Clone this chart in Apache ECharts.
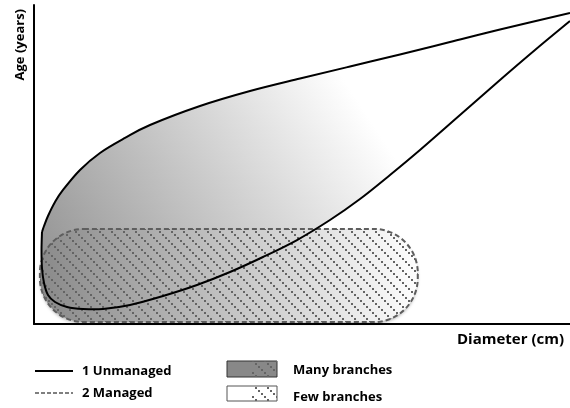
<!DOCTYPE html>
<html>
<head>
<meta charset="utf-8">
<script src="https://cdn.jsdelivr.net/npm/echarts@6/dist/echarts.min.js"></script>
<style>
  html, body { margin: 0; padding: 0; background: #fff; }
  #main { width: 570px; height: 408px; }
</style>
</head>
<body>
<div id="main"></div>
<script>
// unmanaged envelope: upper edge, left to right
var diameterTop = [1.49, 1.87, 2.61, 3.92, 5.41, 8.58, 12.31, 16.98, 21.64, 30.97, 40.30, 49.63, 58.96, 68.28, 77.61, 86.94, 100];
var ageTop = [28.84, 30.72, 33.86, 38.24, 42.01, 48.28, 53.61, 58.31, 62.38, 68.34, 73.04, 76.96, 80.72, 84.48, 88.40, 92.32, 97.49];
// unmanaged envelope: lower edge, left to right
var diameterBottom = [1.49, 1.40, 1.49, 1.87, 2.61, 3.92, 6.16, 9.14, 12.87, 17.91, 24.07, 30.41, 36.57, 42.72, 49.07, 55.22, 60.82, 66.42, 72.01, 79.48, 86.94, 93.47, 100];
var ageBottom = [28.84, 23.20, 17.55, 12.85, 9.09, 6.90, 5.33, 4.70, 4.70, 5.96, 8.78, 12.23, 16.30, 21.00, 26.33, 32.60, 39.18, 46.71, 54.55, 65.52, 76.49, 85.89, 94.98];
// managed zone (min, max)
var managedDiameter = [1.1, 71.6];
var managedAge = [0.6, 29.8];

var legendLines = ['1 Unmanaged', '2 Managed'];
var legendBoxes = ['Many branches', 'Few branches'];

var FONT = '"Open Sans", "Noto Sans", sans-serif';

// dotted diagonal hatch
function hatchCanvas() {
    var c = document.createElement('canvas');
    c.width = 12;
    c.height = 12;
    var ctx = c.getContext('2d');
    ctx.fillStyle = '#646464';
    for (var i = 0; i < 4; i++) {
        ctx.fillRect(i * 3, i * 3, 2, 2);
    }
    return c;
}
var hatch = { image: hatchCanvas(), repeat: 'repeat' };

// catmull-rom through pixel points -> svg path commands
function splinePath(pts, moveFirst) {
    var d = (moveFirst ? 'M' : 'L') + pts[0][0] + ' ' + pts[0][1];
    for (var i = 0; i < pts.length - 1; i++) {
        var p0 = pts[i - 1] || pts[i];
        var p1 = pts[i];
        var p2 = pts[i + 1];
        var p3 = pts[i + 2] || p2;
        var c1x = p1[0] + (p2[0] - p0[0]) / 6, c1y = p1[1] + (p2[1] - p0[1]) / 6;
        var c2x = p2[0] - (p3[0] - p1[0]) / 6, c2y = p2[1] - (p3[1] - p1[1]) / 6;
        d += ' C' + c1x + ' ' + c1y + ' ' + c2x + ' ' + c2y + ' ' + p2[0] + ' ' + p2[1];
    }
    return d;
}

function toPixels(api, xs, ys) {
    var out = [];
    for (var i = 0; i < xs.length; i++) {
        out.push(api.coord([xs[i], ys[i]]));
    }
    return out;
}

var chart = echarts.init(document.getElementById('main'));

var option = {
    animation: false,
    grid: { left: 34, right: 0, top: 5, bottom: 84 },
    xAxis: {
        type: 'value', min: 0, max: 100,
        name: 'Diameter (cm)',
        nameLocation: 'end',
        nameGap: -6,
        nameTextStyle: {
            color: '#000', fontFamily: FONT, fontWeight: 'bold', fontSize: 15,
            align: 'right', verticalAlign: 'top', padding: [8, 0, 0, 0]
        },
        axisLine: { show: true, lineStyle: { color: '#000', width: 2 } },
        axisTick: { show: false },
        axisLabel: { show: false },
        splitLine: { show: false }
    },
    yAxis: {
        type: 'value', min: 0, max: 100,
        name: 'Age (years)',
        nameLocation: 'end',
        nameRotate: 90,
        nameGap: -4,
        nameTextStyle: {
            color: '#000', fontFamily: FONT, fontWeight: 'bold', fontSize: 13,
            align: 'right', verticalAlign: 'bottom', padding: [0, 0, 7, 0]
        },
        axisLine: { show: true, lineStyle: { color: '#000', width: 2 } },
        axisTick: { show: false },
        axisLabel: { show: false },
        splitLine: { show: false }
    },
    series: [
        {
            // gradient body of the unmanaged envelope
            type: 'custom',
            name: '1 Unmanaged fill',
            z: 1,
            data: [0],
            renderItem: function (params, api) {
                var top = toPixels(api, diameterTop, ageTop);
                var bottom = toPixels(api, diameterBottom, ageBottom).reverse();
                var d = splinePath(top, true) + ' ' + splinePath(bottom, false) + ' Z';
                return {
                    type: 'path',
                    shape: { pathData: d },
                    style: {
                        fill: new echarts.graphic.LinearGradient(0, 1, 0.6, 0.3, [
                            { offset: 0, color: '#8c8c8c' },
                            { offset: 1, color: '#ffffff' }
                        ])
                    }
                };
            }
        },
        {
            type: 'custom',
            name: '2 Managed',
            z: 2,
            data: [0],
            renderItem: function (params, api) {
                var p1 = api.coord([managedDiameter[0], managedAge[1]]);
                var p2 = api.coord([managedDiameter[1], managedAge[0]]);
                var shape = { x: p1[0], y: p1[1], width: p2[0] - p1[0], height: p2[1] - p1[1], r: 44 };
                return {
                    type: 'group',
                    children: [
                        {
                            type: 'rect', shape: shape,
                            style: {
                                fill: new echarts.graphic.LinearGradient(0, 0.3, 1, 0, [
                                    { offset: 0, color: '#8a8a8a' },
                                    { offset: 1, color: '#ffffff' }
                                ]),
                                shadowColor: 'rgba(0,0,0,0.25)', shadowBlur: 3, shadowOffsetY: 2
                            }
                        },
                        { type: 'rect', shape: shape, style: { fill: hatch } },
                        {
                            type: 'rect', shape: shape,
                            style: { fill: 'none', stroke: '#5e5e5e', lineWidth: 2, lineDash: [5, 3] }
                        }
                    ]
                };
            }
        },
        {
            // outline of the unmanaged envelope
            type: 'custom',
            name: '1 Unmanaged',
            z: 3,
            data: [0],
            renderItem: function (params, api) {
                var top = toPixels(api, diameterTop, ageTop);
                var bottom = toPixels(api, diameterBottom, ageBottom);
                var st = { fill: 'none', stroke: '#000', lineWidth: 2 };
                return {
                    type: 'group',
                    children: [
                        { type: 'path', shape: { pathData: splinePath(top, true) }, style: st },
                        { type: 'path', shape: { pathData: splinePath(bottom, true) }, style: st }
                    ]
                };
            }
        }
    ],
    graphic: [
        { type: 'line', shape: { x1: 35, y1: 371, x2: 73, y2: 371 }, style: { stroke: '#000', lineWidth: 2 } },
        { type: 'text', x: 82, y: 371, style: { text: legendLines[0], font: 'bold 13px ' + FONT, fill: '#000', verticalAlign: 'middle' } },
        { type: 'line', shape: { x1: 35, y1: 393, x2: 73, y2: 393 }, style: { stroke: '#555', lineWidth: 1.5, lineDash: [4, 2] } },
        { type: 'text', x: 82, y: 393, style: { text: legendLines[1], font: 'bold 13px ' + FONT, fill: '#000', verticalAlign: 'middle' } },

        { type: 'rect', shape: { x: 227, y: 361, width: 50, height: 16 }, style: { fill: '#888', stroke: '#333', lineWidth: 1 } },
        { type: 'rect', shape: { x: 252, y: 361, width: 25, height: 16 }, style: { fill: hatch } },
        { type: 'text', x: 293, y: 370, style: { text: legendBoxes[0], font: 'bold 13px ' + FONT, fill: '#000', verticalAlign: 'middle' } },
        { type: 'rect', shape: { x: 227, y: 386, width: 50, height: 15 }, style: { fill: '#fff', stroke: '#555', lineWidth: 1 } },
        { type: 'rect', shape: { x: 252, y: 386, width: 25, height: 15 }, style: { fill: hatch } },
        { type: 'text', x: 293, y: 397, style: { text: legendBoxes[1], font: 'bold 13px ' + FONT, fill: '#000', verticalAlign: 'middle' } }
    ]
};

chart.setOption(option);
window.onresize = chart.resize;
</script>
</body>
</html>
